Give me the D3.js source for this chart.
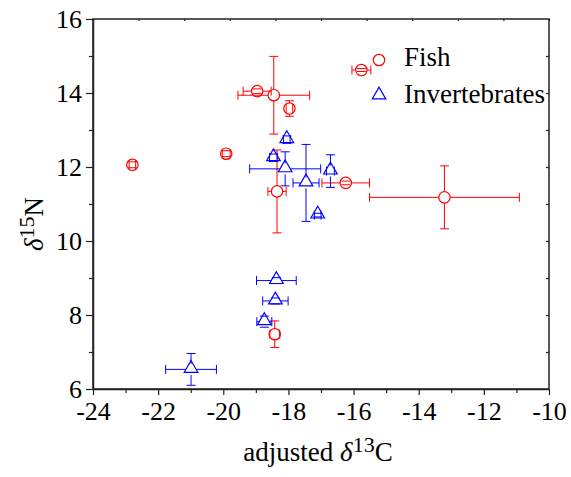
<!DOCTYPE html>
<html>
<head>
<meta charset="utf-8">
<script src="https://cdn.jsdelivr.net/npm/d3@7"></script>
<style>
  body { margin: 0; background: #fff; }
  text { font-family: "Liberation Serif", "Times New Roman", serif; }
</style>
</head>
<body>
<div id="chart"></div>
<script>
// Data (delta13C, delta15N, errors)
var fishX    = [-22.79, -19.91, -18.96, -18.45, -17.97, -18.35, -16.24, -15.76, -13.21, -18.42];
var fishY    = [12.06, 12.36, 14.05, 13.94, 13.58, 11.34, 11.57, 14.62, 11.18, 7.48];
var fishXErr = [0.10, 0.12, 0.43, 1.10, 0.10, 0.28, 0.73, 0.29, 2.30, 0.15];
var fishYErr = [0.08, 0.08, 0.06, 1.05, 0.21, 1.12, 0.05, 0.04, 0.85, 0.36];

var invX    = [-18.05, -18.46, -18.10, -17.46, -16.71, -17.10, -18.37, -18.40, -18.74, -20.99];
var invY    = [12.74, 12.25, 11.95, 11.57, 11.89, 10.70, 8.93, 8.38, 7.82, 6.53];
var invXErr = [0.10, 0.12, 1.09, 0.40, 0.12, 0.10, 0.61, 0.39, 0.23, 0.78];
var invYErr = [0.10, 0.10, 0.46, 1.04, 0.44, 0.05, 0.08, 0.08, 0.15, 0.43];

var xTicks = [-24, -22, -20, -18, -16, -14, -12, -10];
var yTicks = [6, 8, 10, 12, 14, 16];

var W = 571, H = 477;
var margin = { top: 19, right: 22, bottom: 88, left: 93 };
var w = W - margin.left - margin.right;
var h = H - margin.top - margin.bottom;

var svg = d3.select("#chart").append("svg")
    .attr("width", W).attr("height", H);
var g = svg.append("g")
    .attr("transform", `translate(${margin.left}, ${margin.top})`);

var x = d3.scaleLinear().domain([-24, -10]).range([0, w]);
var y = d3.scaleLinear().domain([6, 16]).range([h, 0]);
var xTop = d3.scaleLinear().domain([0, 10]).range([0, w]);

// minor ticks
g.append("g").attr("transform", `translate(0, ${h})`)
    .call(d3.axisBottom(x).tickValues(d3.range(-23, -10, 2)).tickSize(4).tickFormat(""))
    .call(a => a.select(".domain").remove());
g.append("g")
    .call(d3.axisLeft(y).tickValues(d3.range(7, 16, 2)).tickSize(4).tickFormat(""))
    .call(a => a.select(".domain").remove());

// top and right: small inward ticks, no labels
g.append("g")
    .call(d3.axisBottom(xTop).ticks(10).tickSize(2).tickFormat(""))
    .call(a => a.select(".domain").remove());
g.append("g").attr("transform", `translate(${w}, 0)`)
    .call(d3.axisLeft(y).tickValues(d3.range(7, 16)).tickSize(3).tickFormat(""))
    .call(a => a.select(".domain").remove());

// major axes
var xAxis = g.append("g").attr("transform", `translate(0, ${h})`)
    .call(d3.axisBottom(x).tickValues(xTicks).tickSize(6).tickSizeOuter(0).tickPadding(7)
        .tickFormat(d => String(d)));
var yAxis = g.append("g")
    .call(d3.axisLeft(y).tickValues(yTicks).tickSize(7).tickSizeOuter(0).tickPadding(4)
        .tickFormat(d => String(d)));

[xAxis, yAxis].forEach(function(a) {
    a.attr("font-family", "Liberation Serif").attr("font-size", 26);
    a.selectAll("text").attr("fill", "#000");
});

// frame
g.append("rect")
    .attr("width", w).attr("height", h)
    .attr("fill", "none").attr("stroke", "#222").attr("stroke-width", 1.5);
g.selectAll(".tick line").attr("stroke", "#222").attr("stroke-width", 1.2);
g.selectAll(".domain").attr("stroke", "#222").attr("stroke-width", 1.5);

// error bars: line outside the marker, caps always
function errorBars(xs, ys, xe, ye, color, gap) {
    var cap = 4.5;
    var eb = g.append("g").attr("stroke", color).attr("stroke-width", 1).attr("fill", "none");
    xs.forEach(function(d, i) {
        var cx = x(d), cy = y(ys[i]);
        var dx = x(d + xe[i]) - cx;
        var dy = cy - y(ys[i] + ye[i]);
        [-1, 1].forEach(function(s) {
            if (dx > gap) {
                eb.append("line").attr("x1", cx + s * gap).attr("x2", cx + s * dx)
                    .attr("y1", cy).attr("y2", cy);
            }
            eb.append("line").attr("x1", cx + s * dx).attr("x2", cx + s * dx)
                .attr("y1", cy - cap).attr("y2", cy + cap);
            if (dy > gap) {
                eb.append("line").attr("x1", cx).attr("x2", cx)
                    .attr("y1", cy + s * gap).attr("y2", cy + s * dy);
            }
            eb.append("line").attr("x1", cx - cap).attr("x2", cx + cap)
                .attr("y1", cy + s * dy).attr("y2", cy + s * dy);
        });
    });
}

errorBars(fishX, fishY, fishXErr, fishYErr, "#ff0000", 5.7);
errorBars(invX, invY, invXErr, invYErr, "#0000ff", 5.5);

var tri = d3.symbol().type(d3.symbolTriangle).size(80);

g.append("g").selectAll("circle")
    .data(fishX)
    .enter()
    .append("circle")
    .attr("cx", function(d) { return x(d); })
    .attr("cy", function(d, i) { return y(fishY[i]); })
    .attr("r", 5.7)
    .attr("fill", "none")
    .attr("stroke", "#ff0000")
    .attr("stroke-width", 1.2);

g.append("g").selectAll("path")
    .data(invX)
    .enter()
    .append("path")
    .attr("d", tri)
    .attr("transform", function(d, i) { return `translate(${x(d)}, ${y(invY[i]) - 1})`; })
    .attr("fill", "none")
    .attr("stroke", "#0000ff")
    .attr("stroke-width", 1.2);

// legend
svg.append("circle").attr("cx", 379).attr("cy", 60).attr("r", 5.7)
    .attr("fill", "none").attr("stroke", "#ff0000").attr("stroke-width", 1.2);
svg.append("text").attr("x", 404).attr("y", 66).style("font-size", "27px").text("Fish");
svg.append("path").attr("d", tri).attr("transform", "translate(379, 95)")
    .attr("fill", "none").attr("stroke", "#0000ff").attr("stroke-width", 1.2);
svg.append("text").attr("x", 404).attr("y", 102.5).style("font-size", "27px").text("Invertebrates");

// axis titles
var xt = svg.append("text")
    .attr("x", margin.left + w / 2 - 3)
    .attr("y", 461)
    .attr("text-anchor", "middle")
    .style("font-size", "27px");
xt.append("tspan").text("adjusted ");
xt.append("tspan").style("font-style", "italic").text("δ");
xt.append("tspan").attr("dy", -9).style("font-size", "22px").text("13");
xt.append("tspan").attr("dy", 9).text("C");

var yt = svg.append("text")
    .attr("transform", "translate(43, 224) rotate(-90)")
    .attr("text-anchor", "middle")
    .style("font-size", "27px");
yt.append("tspan").style("font-style", "italic").text("δ");
yt.append("tspan").attr("dy", -9).style("font-size", "22px").text("15");
yt.append("tspan").attr("dy", 9).text("N");
</script>
</body>
</html>
